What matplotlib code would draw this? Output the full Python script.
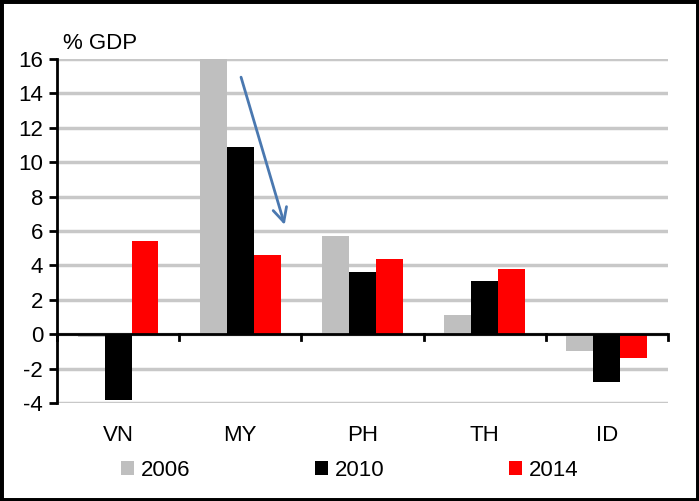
import matplotlib.pyplot as plt
import matplotlib.patches as mpatches
import numpy as np

plt.rcParams['font.family'] = ['Liberation Sans Narrow', 'Liberation Sans', 'DejaVu Sans']
plt.rcParams['axes.unicode_minus'] = False

countries = ['VN', 'MY', 'PH', 'TH', 'ID']
years = ['2006', '2010', '2014']
v2006 = [-0.15, 16.0, 5.7, 1.1, -1.0]
v2010 = [-3.8, 10.9, 3.6, 3.1, -2.8]
v2014 = [5.4, 4.6, 4.4, 3.8, -1.4]
colors = ['#bfbfbf', '#000000', '#ff0000']

fig = plt.figure(figsize=(6.99, 5.01), dpi=100)
ax = fig.add_axes([0.0815, 0.1956, 0.874, 0.6866])

x = np.arange(len(countries))
w = 0.22
for i, (vals, c, lab) in enumerate(zip([v2006, v2010, v2014], colors, years)):
    ax.bar(x + (i - 1) * w, vals, w, color=c, label=lab, zorder=3)

ax.set_xlim(-0.5, 4.5)
ax.set_ylim(-4, 16)
ax.set_yticks(range(-4, 17, 2))
ax.yaxis.grid(True, color='#c8c8c8', linewidth=2.5, zorder=0)
ax.set_axisbelow(True)

for s in ['top', 'right', 'bottom']:
    ax.spines[s].set_visible(False)
ax.spines['left'].set_linewidth(2)
ax.axhline(0, color='black', linewidth=2, zorder=4)

# category boundary ticks on the zero line
ax.set_xticks(x)
ax.set_xticklabels(countries, fontsize=16)
ax.tick_params(axis='x', length=0, pad=16)
for b in np.arange(-0.5, 5, 1.0):
    ax.plot([b, b], [0, -0.35], color='black', linewidth=2, zorder=4, clip_on=False)
ax.tick_params(axis='y', direction='out', length=6, width=2, labelsize=16, pad=4)

ax.text(0.01, 1.015, '% GDP', transform=ax.transAxes, fontsize=16, ha='left', va='bottom')

ax.annotate('', xy=(1.37, 6.2), xytext=(1.0, 15.1),
            arrowprops=dict(arrowstyle='->,head_length=1.0,head_width=0.5',
                            color='#4a78b0', linewidth=2), zorder=5)

fig.legend(loc='lower center', bbox_to_anchor=(0.5, 0.0), ncol=3, frameon=False,
           fontsize=16, handlelength=0.6, handleheight=0.6, handletextpad=0.3,
           columnspacing=5.6)

fig.patches.append(mpatches.Rectangle((0, 0), 1, 1, transform=fig.transFigure,
                                      fill=False, edgecolor='black', linewidth=5))

fig.savefig('out.png', dpi=100)
